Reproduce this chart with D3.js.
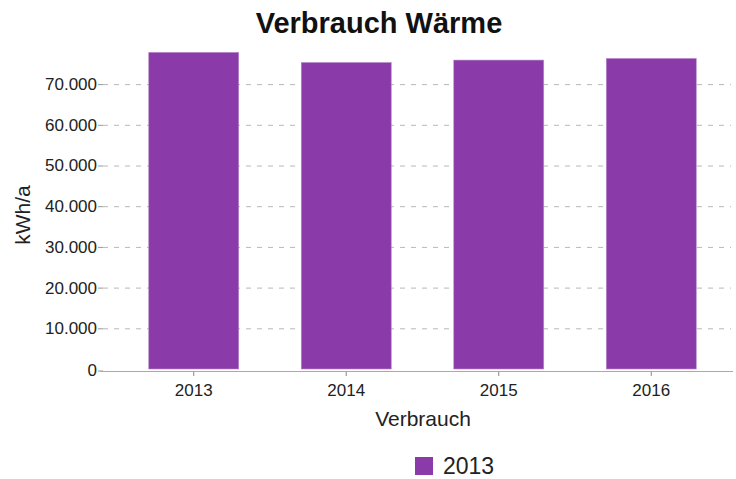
<!DOCTYPE html>
<html><head><meta charset="utf-8">
<script src="https://cdn.jsdelivr.net/npm/d3@7"></script>
<style>
html,body{margin:0;padding:0;background:#fff;}
svg{display:block;font-family:"Liberation Sans",Arial,sans-serif;}
</style></head>
<body>
<svg id="chart" width="736" height="479"></svg>
<script>
const categories = ["2013","2014","2015","2016"];
const values = [77800, 75300, 75900, 76300];
const yTicks = [0,10000,20000,30000,40000,50000,60000,70000];
const seriesName = "2013";
const title = "Verbrauch Wärme";
const xTitle = "Verbrauch";
const yTitle = "kWh/a";
const barColor = "#8a3ba9";

const svg = d3.select("#chart");
const de = d3.formatLocale({decimal:",",thousands:".",grouping:[3],currency:["","€"]});
const fmt = de.format(",");

const x = d3.scaleBand().domain(categories).range([103,742]).paddingInner(0.41).paddingOuter(0.3);
const y = d3.scaleLinear().domain([0,80000]).range([369, 369-8*40.7]);

// gridlines
svg.append("g").selectAll("line").data(yTicks.filter(d=>d>0)).join("line")
  .attr("x1",103).attr("x2",731)
  .attr("y1",d=>y(d)+0.5).attr("y2",d=>y(d)+0.5)
  .attr("stroke","#b8b8b8").attr("stroke-width",1).attr("stroke-dasharray","5,6");

// bars
svg.append("g").selectAll("rect").data(values).join("rect")
  .attr("x",(d,i)=>x(categories[i]))
  .attr("width",x.bandwidth())
  .attr("y",d=>y(d))
  .attr("height",d=>y(0)-y(d))
  .attr("fill",barColor)
  .attr("stroke","#b58ac8").attr("stroke-width",0.6);

// y axis
const ya = svg.append("g").attr("transform","translate(103,0)")
  .call(d3.axisLeft(y).tickValues(yTicks).tickFormat(fmt).tickSize(5).tickPadding(1));
ya.select(".domain").remove();
ya.selectAll(".tick line").attr("stroke","#999");
ya.selectAll(".tick text").attr("font-size",17).attr("fill","#222")
  .attr("font-family","'Liberation Sans',Arial,sans-serif");
ya.selectAll(".tick").filter(d=>d===0).attr("transform",`translate(0,${y(0)+2})`);

// x axis
const xa = svg.append("g").attr("transform",`translate(0,${y(0)+2})`)
  .call(d3.axisBottom(x).tickSize(5).tickPadding(8));
xa.select(".domain").remove();
xa.selectAll(".tick line").attr("stroke","#888");
xa.selectAll(".tick text").attr("font-size",17).attr("fill","#222")
  .attr("font-family","'Liberation Sans',Arial,sans-serif");
svg.append("line").attr("x1",100).attr("x2",733)
  .attr("y1",y(0)+2.5).attr("y2",y(0)+2.5).attr("stroke","#aaa").attr("stroke-width",1);

// title
svg.append("text").attr("x",379).attr("y",33).attr("text-anchor","middle")
  .attr("font-size",29).attr("font-weight","bold").attr("fill","#111").text(title);

// axis titles
svg.append("text").attr("x",423).attr("y",426).attr("text-anchor","middle")
  .attr("font-size",21).attr("fill","#222").text(xTitle);
svg.append("text").attr("transform","translate(30,215) rotate(-90)").attr("text-anchor","middle")
  .attr("font-size",21).attr("fill","#222").text(yTitle);

// legend
svg.append("rect").attr("x",415).attr("y",457).attr("width",18).attr("height",18).attr("fill",barColor);
svg.append("text").attr("x",443).attr("y",474).attr("font-size",23).attr("fill","#222").text(seriesName);
</script>
</body></html>
